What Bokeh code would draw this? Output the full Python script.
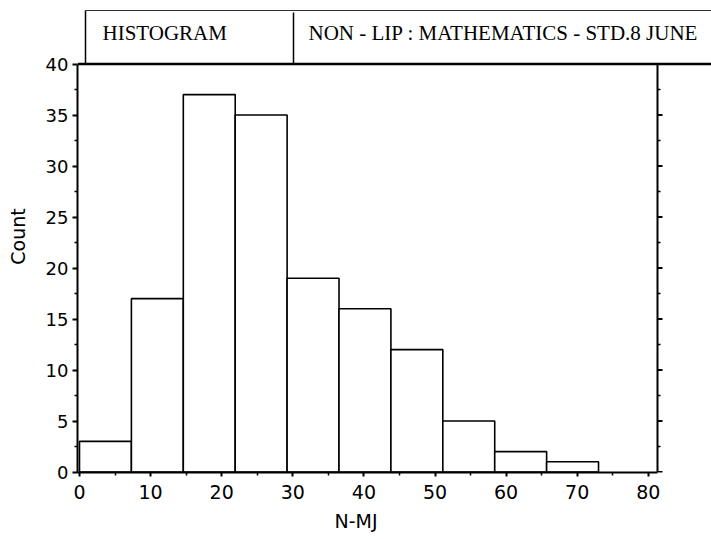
from bokeh.plotting import figure
from bokeh.models import Range1d, FixedTicker, Title
from bokeh.core.properties import value
from bokeh.embed import file_html
from bokeh.resources import INLINE

# ---- data -------------------------------------------------------------
bin_edges = [0, 7.3, 14.6, 21.9, 29.2, 36.5, 43.8, 51.1, 58.4, 65.7, 73.0]
counts = [3, 17, 37, 35, 19, 16, 12, 5, 2, 1]
x_ticks = [0, 10, 20, 30, 40, 50, 60, 70, 80]
x_minor = [5, 15, 25, 35, 45, 55, 65, 75]
y_ticks = [0, 5, 10, 15, 20, 25, 30, 35, 40]
y_minor = [2.5, 7.5, 12.5, 17.5, 22.5, 27.5, 32.5, 37.5]
header_left = "HISTOGRAM"
header_right = "NON - LIP : MATHEMATICS - STD.8 JUNE"
x_title = "N-MJ"
y_title = "Count"

# ---- geometry ---------------------------------------------------------
W, H = 711, 539
FRAME_L, FRAME_B = 77, 472
X0_PX, PX_PER_X = 79.0, 7.11      # pixel of x=0, pixels per x unit
Y0_PX, PX_PER_Y = 471.5, 10.2     # pixel of y=0, pixels per count


def xd(px):
    return (px - X0_PX) / PX_PER_X


def yd(py):
    return (Y0_PX - py) / PX_PER_Y


Y_TOP = y_ticks[-1]
X_RIGHT = xd(657)

p = figure(
    width=W, height=H,
    x_range=Range1d(xd(FRAME_L), xd(W)),
    y_range=Range1d(yd(FRAME_B), yd(0)),
    output_backend="svg", toolbar_location=None,
    min_border_left=FRAME_L, min_border_right=0,
    min_border_top=0, min_border_bottom=H - FRAME_B,
)
p.outline_line_color = None
p.xgrid.visible = False
p.ygrid.visible = False
p.background_fill_color = "white"
p.border_fill_color = "white"

SANS = "DejaVu Sans"

# bottom axis (its title is placed separately below)
xa = p.xaxis[0]
xa.ticker = FixedTicker(ticks=x_ticks, minor_ticks=x_minor)
xa.bounds = (xd(FRAME_L), X_RIGHT)
xa.major_label_text_font = SANS
xa.major_label_text_font_size = "19px"
xa.major_label_text_color = "black"
xa.major_label_standoff = 8
xa.axis_line_width = 2
xa.major_tick_in = 0
xa.major_tick_out = 4
xa.minor_tick_in = 0
xa.minor_tick_out = 3
xa.major_tick_line_width = 2
xa.minor_tick_line_width = 1.5

# left axis
ya = p.yaxis[0]
ya.ticker = FixedTicker(ticks=y_ticks, minor_ticks=y_minor)
ya.bounds = (0, Y_TOP)
ya.axis_label = y_title
ya.axis_label_text_font = SANS
ya.axis_label_text_font_style = "normal"
ya.axis_label_text_font_size = "19px"
ya.axis_label_text_color = "black"
ya.axis_label_standoff = 14
ya.major_label_text_font = SANS
ya.major_label_text_font_size = "18px"
ya.major_label_text_color = "black"
ya.major_label_standoff = 4
ya.major_label_orientation = "horizontal"
ya.axis_line_width = 2
ya.major_tick_in = 0
ya.major_tick_out = 5
ya.minor_tick_in = 0
ya.minor_tick_out = 3
ya.major_tick_line_width = 2
ya.minor_tick_line_width = 1.5

# x title, set a little left of the box middle
p.add_layout(Title(text=x_title, align="left", offset=257,
                   text_font=SANS, text_font_size="19px",
                   text_font_style="normal", text_color="black",
                   standoff=12), "below")

# right spine with outward ticks
tick_major = 5 / PX_PER_X
tick_minor = 3 / PX_PER_X
p.segment(x0=[X_RIGHT], y0=[0], x1=[X_RIGHT], y1=[Y_TOP],
          line_color="black", line_width=2)
p.segment(x0=[X_RIGHT] * len(y_ticks), y0=y_ticks,
          x1=[X_RIGHT + tick_major] * len(y_ticks), y1=y_ticks,
          line_color="black", line_width=2)
p.segment(x0=[X_RIGHT] * len(y_minor), y0=y_minor,
          x1=[X_RIGHT + tick_minor] * len(y_minor), y1=y_minor,
          line_color="black", line_width=1.5)

# histogram bars
p.quad(left=bin_edges[:-1], right=bin_edges[1:], bottom=0, top=counts,
       fill_color="white", line_color="black", line_width=1.6)

# top rule of the plot box, running into the header
p.segment(x0=[xd(FRAME_L)], y0=[Y_TOP], x1=[xd(W)], y1=[Y_TOP],
          line_color="black", line_width=2.5)

# header boxes
p.segment(x0=[xd(85)], y0=[yd(10)], x1=[xd(W)], y1=[yd(10)],
          line_color="#333333", line_width=1.2)
p.segment(x0=[xd(85), xd(293)], y0=[yd(10), yd(12)],
          x1=[xd(85), xd(293)], y1=[Y_TOP, Y_TOP],
          line_color="black", line_width=1.5)

serif = value("Liberation Serif")
p.text(x=[xd(102)], y=[yd(32)], text=[header_left], text_font=serif,
       text_font_size="21px", text_color="black",
       text_baseline="alphabetic", text_align="left")
p.text(x=[xd(308)], y=[yd(32)], text=[header_right], text_font=serif,
       text_font_size="21px", text_color="black",
       text_baseline="alphabetic", text_align="left")

open("out.html", "w").write(file_html(p, INLINE))
